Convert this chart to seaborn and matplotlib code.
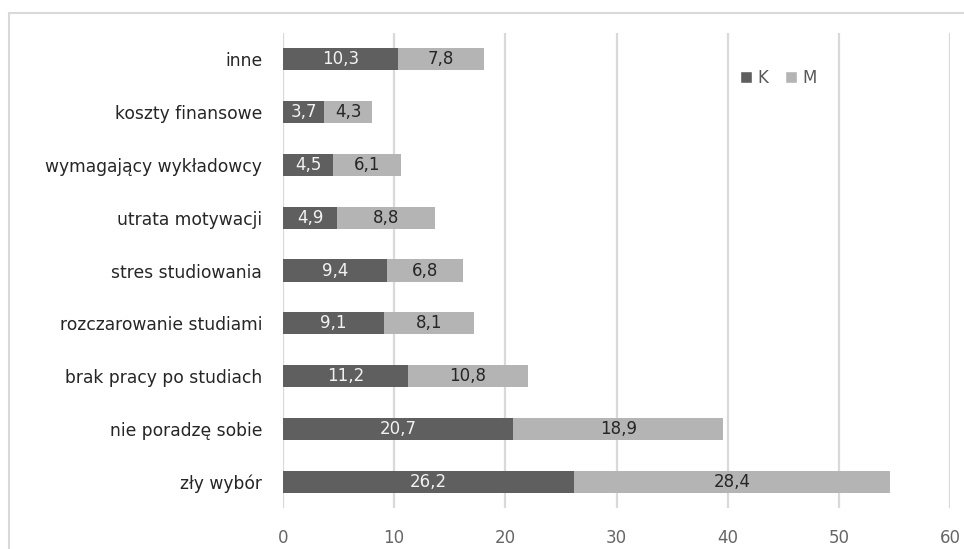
import matplotlib
matplotlib.use("Agg")
import matplotlib.pyplot as plt
from matplotlib.patches import Patch, Rectangle
import seaborn as sns
import pandas as pd

categories = ["inne", "koszty finansowe", "wymagający wykładowcy", "utrata motywacji",
              "stres studiowania", "rozczarowanie studiami", "brak pracy po studiach",
              "nie poradzę sobie", "zły wybór"]
k_values = [10.3, 3.7, 4.5, 4.9, 9.4, 9.1, 11.2, 20.7, 26.2]
m_values = [7.8, 4.3, 6.1, 8.8, 6.8, 8.1, 10.8, 18.9, 28.4]
x_ticks = [0, 10, 20, 30, 40, 50, 60]

K_COLOR = "#5f5f5f"
M_COLOR = "#b4b4b4"
GRID = "#d9d9d9"

sns.set_theme(style="white")
plt.rcParams["font.family"] = ["DejaVu Sans"]

df = pd.DataFrame({"kategoria": categories, "K": k_values, "M": m_values})
df["suma"] = df["K"] + df["M"]

fig = plt.figure(figsize=(9.64, 5.49), dpi=100)
ax = fig.add_axes([283 / 964, 1 - 508 / 549, (950 - 283) / 964, (508 - 33) / 549])

# stacked bars: full total in light grey, K drawn on top in dark grey
sns.barplot(data=df, y="kategoria", x="suma", color=M_COLOR, orient="h",
            width=0.42, saturation=1, linewidth=0, ax=ax, zorder=3)
sns.barplot(data=df, y="kategoria", x="K", color=K_COLOR, orient="h",
            width=0.42, saturation=1, linewidth=0, ax=ax, zorder=4)

for i, (k, m) in enumerate(zip(k_values, m_values)):
    ax.text(k / 2, i, f"{k:.1f}".replace(".", ","), ha="center", va="center",
            color="#f2f2f2", fontsize=12, zorder=5)
    ax.text(k + m / 2, i, f"{m:.1f}".replace(".", ","), ha="center", va="center",
            color="#262626", fontsize=12, zorder=5)

ax.set_xlim(0, 60)
ax.set_ylim(len(categories) - 0.5, -0.5)
ax.set_xticks(x_ticks)
ax.set_xticklabels([str(t) for t in x_ticks])
ax.set_xlabel("")
ax.set_ylabel("")

for t in x_ticks:
    ax.axvline(t, color=GRID, lw=1.6, zorder=1)

for side in ["top", "right", "bottom", "left"]:
    ax.spines[side].set_visible(False)

ax.tick_params(axis="x", length=0, pad=15, labelsize=12, labelcolor="#666666")
ax.tick_params(axis="y", length=0, pad=15, labelsize=12.3, labelcolor="#262626")

handles = [Patch(facecolor=K_COLOR, label="K"), Patch(facecolor=M_COLOR, label="M")]
leg = ax.legend(handles=handles, loc="center", bbox_to_anchor=((778 - 283) / 667, 1 - (78 - 33) / 475),
                ncol=2, frameon=False, handlelength=0.75, handleheight=0.75,
                handletextpad=0.3, columnspacing=1.0, fontsize=12)
for txt in leg.get_texts():
    txt.set_color("#595959")

# outer chart frame
fig.patches.append(Rectangle((9 / 964, -0.2), 1.2, 1.2 - 13.5 / 549,
                             transform=fig.transFigure, fill=False,
                             edgecolor=GRID, lw=1.5, zorder=0))

fig.savefig("out.png", dpi=100)
